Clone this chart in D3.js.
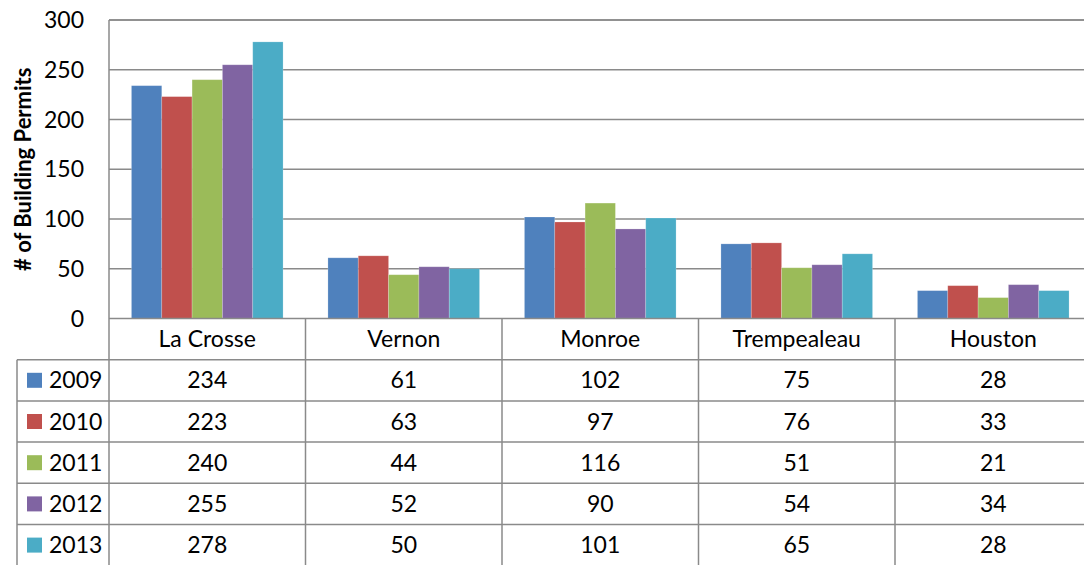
<!DOCTYPE html>
<html>
  <head>
    <title>Building Permits by County</title>
    <style>
      body { margin: 0; background: #fff; }
      text { font-family: Lato, "Noto Sans", sans-serif; fill: #000; }
      .grid line, .tbl line { stroke: #8a8a8a; stroke-width: 1.5; }
    </style>
  </head>
  <body>
    <div id="chart"></div>
    <script src="https://cdn.jsdelivr.net/npm/d3@7/dist/d3.min.js"></script>
<script>

  var counties = ["La Crosse", "Vernon", "Monroe", "Trempealeau", "Houston"];
  var years = ["2009", "2010", "2011", "2012", "2013"];
  var permits2009 = [234, 61, 102, 75, 28];
  var permits2010 = [223, 63, 97, 76, 33];
  var permits2011 = [240, 44, 116, 51, 21];
  var permits2012 = [255, 52, 90, 54, 34];
  var permits2013 = [278, 50, 101, 65, 28];
  var yTicks = [0, 50, 100, 150, 200, 250, 300];
  var colors = ["#4f81bd", "#c0504d", "#9bbb59", "#8064a2", "#4bacc6"];

  var series = [permits2009, permits2010, permits2011, permits2012, permits2013];

  var width = 1084, height = 565;
  var plot = {left: 109, right: 1091.5, top: 20, bottom: 318.5};
  var tableLeft = 17;
  var fontSize = "23px";

  var svg = d3.select("#chart")
    .append("svg")
    .attr("width", width)
    .attr("height", height);

  var x0 = d3.scaleBand()
    .domain(counties)
    .range([plot.left, plot.right]);

  var x1 = d3.scaleBand()
    .domain(years)
    .range([0, x0.bandwidth()])
    .paddingInner(0)
    .paddingOuter(0.74);

  var y = d3.scaleLinear()
    .domain([0, 300])
    .range([plot.bottom, plot.top]);

  var color = d3.scaleOrdinal().domain(years).range(colors);

  // table rows: header row + one per year
  var rows = d3.scaleBand()
    .domain(["header"].concat(years))
    .range([plot.bottom, plot.bottom + 6 * 41.2]);

  // gridlines
  svg.append("g")
    .attr("class", "grid")
    .selectAll("line")
    .data(yTicks.filter(function(d) { return d > 0; }))
    .enter().append("line")
    .attr("x1", plot.left).attr("x2", plot.right)
    .attr("y1", function(d) { return y(d); })
    .attr("y2", function(d) { return y(d); });

  // y tick labels
  svg.append("g")
    .selectAll("text")
    .data(yTicks)
    .enter().append("text")
    .attr("x", 84)
    .attr("y", function(d) { return y(d); })
    .attr("dy", "0.35em")
    .attr("text-anchor", "end")
    .style("font-size", fontSize)
    .text(function(d) { return d; });

  // axis title
  svg.append("text")
    .attr("transform", "translate(31," + ((plot.top + plot.bottom) / 2) + ") rotate(-90)")
    .attr("text-anchor", "middle")
    .style("font-size", "22px")
    .style("font-weight", "bold")
    .text("# of Building Permits");

  // bars
  var flat = [];
  series.forEach(function(vals, i) {
    vals.forEach(function(v, j) {
      flat.push({county: counties[j], year: years[i], value: v});
    });
  });

  svg.append("g")
    .selectAll("rect")
    .data(flat)
    .enter().append("rect")
    .attr("x", function(d) { return x0(d.county) + x1(d.year); })
    .attr("y", function(d) { return y(d.value); })
    .attr("width", x1.bandwidth())
    .attr("height", function(d) { return y(0) - y(d.value); })
    .style("fill", function(d) { return color(d.year); })
    .style("stroke", "#fff")
    .style("stroke-opacity", 0.25)
    .style("stroke-width", 0.8);

  // table lines
  var tbl = svg.append("g").attr("class", "tbl");

  // plot border (left + top)
  tbl.append("line")
    .attr("x1", plot.left).attr("x2", plot.right)
    .attr("y1", plot.top).attr("y2", plot.top);
  tbl.append("line")
    .attr("x1", plot.left).attr("x2", plot.left)
    .attr("y1", plot.top).attr("y2", height);

  // horizontal rules
  tbl.append("line")
    .attr("x1", plot.left).attr("x2", plot.right)
    .attr("y1", rows("header")).attr("y2", rows("header"));
  tbl.selectAll(".hrow")
    .data(years)
    .enter().append("line")
    .attr("class", "hrow")
    .attr("x1", tableLeft).attr("x2", plot.right)
    .attr("y1", function(d) { return rows(d); })
    .attr("y2", function(d) { return rows(d); });

  // vertical rules
  tbl.append("line")
    .attr("x1", tableLeft).attr("x2", tableLeft)
    .attr("y1", rows(years[0])).attr("y2", height);
  tbl.selectAll(".vcol")
    .data(counties.slice(1).concat(["end"]))
    .enter().append("line")
    .attr("class", "vcol")
    .attr("x1", function(d) { return d === "end" ? plot.right : x0(d); })
    .attr("x2", function(d) { return d === "end" ? plot.right : x0(d); })
    .attr("y1", plot.bottom).attr("y2", height);

  // category headers
  svg.append("g")
    .selectAll("text")
    .data(counties)
    .enter().append("text")
    .attr("x", function(d) { return x0(d) + x0.bandwidth() / 2; })
    .attr("y", rows("header") + rows.bandwidth() / 2)
    .attr("dy", "0.35em")
    .attr("text-anchor", "middle")
    .style("font-size", fontSize)
    .text(function(d) { return d; });

  // legend keys + year labels
  var leg = svg.append("g")
    .selectAll("g")
    .data(years)
    .enter().append("g")
    .attr("transform", function(d) { return "translate(0," + (rows(d) + rows.bandwidth() / 2) + ")"; });

  leg.append("rect")
    .attr("x", 27).attr("y", -7.5)
    .attr("width", 15).attr("height", 15)
    .style("fill", function(d) { return color(d); });

  leg.append("text")
    .attr("x", 49)
    .attr("dy", "0.35em")
    .style("font-size", fontSize)
    .text(function(d) { return d; });

  // value cells
  svg.append("g")
    .selectAll("text")
    .data(flat)
    .enter().append("text")
    .attr("x", function(d) { return x0(d.county) + x0.bandwidth() / 2; })
    .attr("y", function(d) { return rows(d.year) + rows.bandwidth() / 2; })
    .attr("dy", "0.35em")
    .attr("text-anchor", "middle")
    .style("font-size", fontSize)
    .text(function(d) { return d.value; });

</script>
  </body>
</html>
